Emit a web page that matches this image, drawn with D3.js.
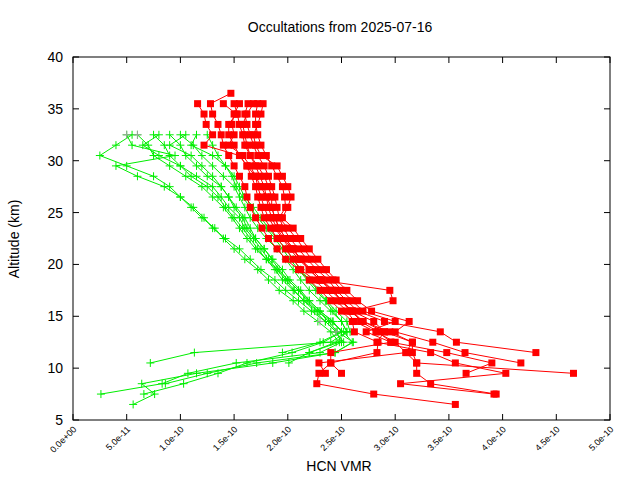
<!DOCTYPE html><html><head><meta charset="utf-8"><script src="https://cdn.jsdelivr.net/npm/d3@7"></script>
<style>body{margin:0;background:#fff}text{font-family:"Liberation Sans",Arial,sans-serif}</style></head><body><svg id="c" width="640" height="480"></svg><script>
// x values in units of 1e-10, listed from top altitude downward in 1 km steps
const greenTop = 32.5;
const greenProfiles = [
[0.5,0.55,0.95,0.4,0.6,0.85,1.0,1.12,1.22,1.3,1.42,1.55,1.65,1.75,1.88,1.98,2.1,2.22,2.35,2.45,2.5,2.3,1.52,1.07,0.83,0.26],
[0.6,0.7,0.75,0.9,1.05,1.2,1.3,1.4,1.48,1.55,1.62,1.7,1.8,1.88,1.95,2.05,2.15,2.28,2.4,2.52,2.6,2.44,1.86,1.15,0.64,0.76,0.56],
[0.75,0.85,0.9,1.0,1.1,1.25,1.35,1.42,1.5,1.58,1.65,1.72,1.8,1.9,2.0,2.1,2.2,2.3,2.42,2.5,2.33,2.04,1.62,1.35,1.03,0.66],
[0.9,1.0,1.05,1.15,1.25,1.38,1.45,1.52,1.6,1.65,1.7,1.78,1.85,1.92,2.0,2.1,2.18,2.28,2.38,2.46,2.61,2.44,1.71,1.25,0.86],
[1.0,1.12,1.2,1.3,1.4,1.5,1.55,1.6,1.65,1.72,1.8,1.9,1.98,2.05,2.12,2.2,2.3,2.4,2.5,2.55,2.4,1.13,0.72],
[1.15,1.1,1.3,1.42,1.5,1.55,1.6,1.68,1.75,1.82,1.9,1.98,2.05,2.12,2.2,2.28,2.36,2.45,2.55,2.58],
[0.55,0.4,0.25,0.5,0.75,0.9,1.0,1.1,1.2,1.32,1.4,1.5,1.6,1.72,1.82,1.92,2.05,2.15,2.28,2.4,2.48,2.2,2.01],
[1.25,1.3,1.35,1.42,1.48,1.52,1.58,1.65,1.72,1.8,1.88,1.95,2.02,2.1,2.18,2.26,2.35,2.42,2.5,2.55,2.45,2.2],
[0.8,0.65,0.8,1.0,1.15,1.3,1.38,1.45,1.55,1.6,1.68,1.75,1.82,1.9,1.98,2.06,2.15,2.25,2.35,2.45,2.52],
[1.05,0.9,1.1,1.2,1.3,1.38,1.45,1.5,1.58,1.62,1.7,1.78,1.86,1.95,2.02,2.12,2.2,2.3,2.42,2.5,2.3,1.95]
];
const redTops = [36.5,35.5,35.5,35.5,35.5,35.5,35.5,35.5,35.5];
const redProfiles = [
[1.47,1.28,1.3,1.35,1.38,1.4,1.45,1.5,1.55,1.6,1.62,1.65,1.7,1.76,1.82,1.9,1.98,2.1,2.2,2.3,2.4,2.5,2.6,2.62,2.84,2.83,2.4,2.29,2.27,2.8,3.56],
[1.55,1.5,1.48,1.5,1.45,1.58,1.65,1.7,1.72,1.75,1.78,1.82,1.88,1.95,2.02,2.1,2.2,2.3,2.4,2.5,2.58,2.7,2.95,3.16,3.16,3.2,3.2,3.33,3.94],
[1.63,1.6,1.62,1.65,1.68,1.72,1.78,1.82,1.85,1.88,1.9,1.92,1.96,2.02,2.1,2.18,2.27,2.38,2.45,2.55,2.65,2.9,3.42,3.57,4.31],
[1.72,1.7,1.7,1.72,1.75,1.8,1.85,1.9,1.95,1.97,1.98,1.92,2.0,2.08,2.15,2.22,2.32,2.42,2.5,2.6,2.7,3.0,2.73,2.96,3.48,3.9,3.66],
[1.77,1.75,1.72,1.68,1.7,1.75,1.9,1.95,2.0,2.03,2.0,1.95,2.05,2.12,2.2,2.28,2.36,2.45,2.55,2.65,2.78,3.13,3.0,3.35,3.65,4.17],
[1.68,1.62,1.58,1.6,1.62,1.65,1.72,1.78,1.82,1.85,1.85,1.88,1.92,1.98,2.05,2.12,2.22,2.32,2.42,2.5,2.6,2.8,2.9,2.83,3.33,3.56,4.03,3.05,3.92],
[1.5,1.53,1.55,1.58,1.6,1.65,1.7,1.74,1.78,1.8,1.82,1.85,1.9,1.96,2.04,2.12,2.2,2.3,2.95,2.98,2.6,2.68,2.84,2.96,2.4,2.4,2.5],
[1.4,1.52,1.45,1.45,1.5,1.55,1.62,1.66,1.7,1.72,1.75,1.78,1.84,1.9,1.98,2.05,2.12,2.25,2.35,2.45,2.55,2.62,2.82,3.0,3.1,3.2,4.66],
[1.16,1.22,1.24,1.3,1.22,1.55,1.62,1.7,1.75,1.8,1.85,1.88,1.92,1.98,2.05,2.12,2.2,2.3,2.42,2.5,2.6,2.7,2.9,3.16,3.1,2.29,2.35]
];
const greyPoints = [[0.5,32.5],[0.6,32.5],[2.45,13.5],[2.3,14.5]];
const xTicks = ["0.0e+00","5.0e-11","1.0e-10","1.5e-10","2.0e-10","2.5e-10","3.0e-10","3.5e-10","4.0e-10","4.5e-10","5.0e-10"];
const yTicks = [5,10,15,20,25,30,35,40];

const svg = d3.select("#c");
const L=73,R=610,T=57,B=420;
const x = d3.scaleLinear().domain([0,5]).range([L,R]);
const y = d3.scaleLinear().domain([5,40]).range([B,T]);
const line = d3.line().x(d=>x(d[0])).y(d=>y(d[1]));
const toPts = (arr,top)=>arr.map((v,i)=>[v,top-i]);

const g = svg.append("g");
greenProfiles.forEach(p=>{
  const pts = toPts(p,greenTop);
  g.append("path").attr("d",line(pts)).attr("fill","none").attr("stroke","#00ee00").attr("stroke-width",1);
  pts.forEach(d=>{
    g.append("path").attr("d",`M${x(d[0])-4},${y(d[1])}h8M${x(d[0])},${y(d[1])-4}v8`).attr("stroke","#00ee00").attr("stroke-width",1);
  });
});
greyPoints.forEach(d=>g.append("path").attr("d",`M${x(d[0])-4},${y(d[1])}h8M${x(d[0])},${y(d[1])-4}v8`).attr("stroke","#a0a0a0"));
redProfiles.forEach((p,k)=>{
  const pts = toPts(p,redTops[k]);
  g.append("path").attr("d",line(pts)).attr("fill","none").attr("stroke","#ff0000").attr("stroke-width",1);
  pts.forEach(d=>g.append("rect").attr("x",x(d[0])-3.5).attr("y",y(d[1])-3.5).attr("width",7).attr("height",7).attr("fill","#ff0000"));
});

// frame and ticks
svg.append("rect").attr("x",L).attr("y",T).attr("width",R-L).attr("height",B-T).attr("fill","none").attr("stroke","#000");
xTicks.forEach((t,i)=>{
  const px=x(i*0.5);
  svg.append("path").attr("d",`M${px},${B}v-6M${px},${T}v6`).attr("stroke","#000");
  svg.append("text").attr("transform",`translate(${px+4},${B+10}) rotate(-45)`).attr("text-anchor","end").attr("font-size",9).text(t);
});
yTicks.forEach(t=>{
  const py=y(t);
  svg.append("path").attr("d",`M${L},${py}h6M${R},${py}h-6`).attr("stroke","#000");
  svg.append("text").attr("x",L-10).attr("y",py+5).attr("text-anchor","end").attr("font-size",14).text(t);
});
svg.append("text").attr("x",340).attr("y",32).attr("text-anchor","middle").attr("font-size",14).text("Occultations from 2025-07-16");
svg.append("text").attr("x",339).attr("y",471).attr("text-anchor","middle").attr("font-size",14).text("HCN VMR");
svg.append("text").attr("transform","translate(19,239) rotate(-90)").attr("text-anchor","middle").attr("font-size",14).text("Altitude (km)");
</script></body></html>
